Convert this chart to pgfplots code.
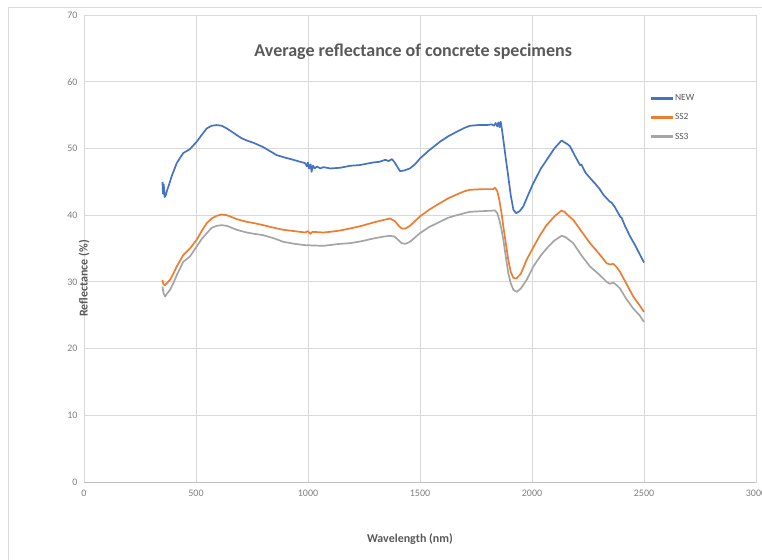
\documentclass[border=0pt]{standalone}
\usepackage{fontspec}
\setmainfont{Carlito}
\usepackage{pgfplots}
\pgfplotsset{compat=1.18}

\definecolor{xlblue}{HTML}{4472C4}
\definecolor{xlorange}{HTML}{ED7D31}
\definecolor{xlgray}{HTML}{A5A5A5}
\definecolor{gridc}{HTML}{D9D9D9}
\definecolor{txtc}{HTML}{595959}
\definecolor{tickc}{HTML}{7F7F7F}

\begin{document}
\begin{tikzpicture}
\useasboundingbox (-84pt,-77pt) rectangle (678pt,482pt);
\clip (-84pt,-77pt) rectangle (678pt,482pt);
\draw[gridc, line width=0.8pt] (-76pt,-90pt) -- (-76pt,475pt) -- (700pt,475pt);
\begin{axis}[
  scale only axis, width=672pt, height=467pt,
  xmin=0, xmax=3000, ymin=0, ymax=70,
  xtick={0,500,...,3000}, ytick={0,10,...,70},
  grid=major, major grid style={gridc, line width=0.8pt},
  axis line style={gridc, line width=0.8pt},
  major tick length=0pt,
  tick label style={font=\fontsize{10}{12}\selectfont, text=tickc},
  /pgf/number format/assume math mode=true,
  /pgf/number format/1000 sep={},
  xticklabel style={yshift=-4pt},
  yticklabel style={xshift=-3pt},
  xlabel={Wavelength (nm)}, ylabel={Reflectance (\%)},
  every axis x label/.style={at={(axis description cs:0.485,0)}, anchor=center, yshift=-57pt,
    font=\bfseries\fontsize{12}{14}\selectfont, text=txtc},
  every axis y label/.style={at={(axis description cs:0,0.5)}, anchor=center, rotate=90, xshift=-30pt,
    font=\bfseries\fontsize{12}{14}\selectfont, text=txtc},
  legend style={at={(axis cs:2517,58.7)}, anchor=north west, draw=none, fill=none,
    font=\fontsize{9.5}{11}\selectfont, row sep=7.5pt,
    nodes={text=txtc}},
  legend cell align=left,
  % a filled bar instead of a stroked zero-height line
  legend image code/.code={\fill[#1, draw=none] (0pt,-1.2pt) rectangle (22pt,1.2pt);},
]
\addplot[color=xlblue, line width=1.7pt, line join=round] coordinates {
(350,45.0) (353,43.2) (356,44.6) (360,42.7) (365,43.0) (370,43.6) (380,44.6)
(391,45.8) (414,47.8) (443,49.3) (473,49.9) (503,51.0) (525,52.0) (548,53.0)
(570,53.4) (592,53.5) (615,53.4) (637,53.0) (660,52.5) (682,52.0) (705,51.5)
(726,51.2) (760,50.8) (800,50.2) (830,49.6) (860,49.0) (900,48.6) (934,48.3)
(965,48.0) (987,47.8) (995,47.3) (1000,47.9) (1005,47.0) (1012,47.6) (1016,46.5)
(1022,47.4) (1030,47.0) (1040,47.3) (1055,47.0) (1068,47.2) (1100,47.0) (1143,47.1)
(1188,47.4) (1230,47.5) (1260,47.7) (1292,47.9) (1320,48.0) (1345,48.3) (1360,48.1)
(1374,48.4) (1385,48.0) (1396,47.4) (1405,46.9) (1411,46.6) (1430,46.7) (1455,47.0)
(1480,47.7) (1500,48.5) (1540,49.7) (1589,51.0) (1625,51.8) (1664,52.5) (1700,53.1)
(1723,53.4) (1760,53.5) (1798,53.5) (1820,53.6) (1830,53.4) (1838,53.8) (1845,53.3)
(1850,53.9) (1855,53.2) (1860,54.0) (1866,52.8) (1872,51.3) (1883,48.5) (1894,45.8)
(1905,43.0) (1917,40.8) (1929,40.3) (1945,40.6) (1961,41.3) (1985,43.2) (2006,44.8)
(2040,47.0) (2070,48.5) (2100,50.0) (2132,51.2) (2145,50.9) (2160,50.6) (2170,50.3)
(2190,49.0) (2214,47.5) (2220,47.6) (2240,46.3) (2274,45.0) (2280,44.8) (2300,44.0)
(2320,43.0) (2348,42.0) (2355,41.9) (2370,41.2) (2393,39.8) (2400,39.6) (2415,38.4)
(2438,36.8) (2460,35.5) (2480,34.2) (2500,32.9)
};
\addlegendentry{NEW}
\addplot[color=xlorange, line width=1.7pt, line join=round] coordinates {
(350,30.3) (355,29.6) (362,29.5) (370,29.8) (384,30.3) (400,31.3) (414,32.3)
(443,34.0) (473,35.0) (503,36.3) (525,37.6) (548,38.8) (570,39.5) (592,39.9)
(615,40.1) (637,40.0) (660,39.7) (682,39.4) (726,39.0) (760,38.8) (800,38.5)
(850,38.1) (890,37.8) (940,37.6) (987,37.4) (1000,37.6) (1010,37.2) (1020,37.5)
(1068,37.4) (1100,37.5) (1143,37.7) (1188,38.0) (1240,38.4) (1292,38.9) (1340,39.3)
(1366,39.5) (1388,39.1) (1405,38.4) (1418,38.0) (1435,38.0) (1455,38.4) (1500,39.8)
(1540,40.8) (1589,41.8) (1625,42.5) (1664,43.1) (1700,43.6) (1723,43.8) (1780,43.9)
(1827,43.9) (1835,44.1) (1845,43.6) (1854,42.3) (1863,40.5) (1872,38.3) (1883,35.8)
(1894,33.3) (1905,31.5) (1917,30.6) (1930,30.5) (1950,31.2) (1976,33.3) (2006,35.2)
(2036,37.0) (2065,38.5) (2100,39.8) (2132,40.7) (2145,40.5) (2160,40.0) (2184,39.3)
(2220,37.6) (2259,35.8) (2300,34.2) (2333,32.8) (2348,32.6) (2363,32.7) (2378,32.2)
(2393,31.5) (2420,29.8) (2452,27.8) (2480,26.5) (2500,25.5)
};
\addlegendentry{SS2}
\addplot[color=xlgray, line width=1.7pt, line join=round] coordinates {
(350,29.3) (355,28.3) (362,27.8) (370,28.2) (384,28.8) (400,29.9) (414,31.0)
(443,33.0) (473,33.8) (503,35.3) (525,36.4) (548,37.3) (570,38.1) (592,38.4)
(615,38.5) (637,38.4) (660,38.1) (682,37.8) (726,37.4) (760,37.2) (800,37.0)
(850,36.5) (890,36.0) (940,35.7) (987,35.5) (1068,35.4) (1143,35.7) (1188,35.8)
(1240,36.1) (1292,36.5) (1340,36.8) (1366,36.9) (1385,36.8) (1396,36.5) (1418,35.8)
(1435,35.7) (1455,36.0) (1500,37.3) (1540,38.2) (1589,39.0) (1625,39.6) (1664,40.0)
(1723,40.5) (1780,40.6) (1835,40.7) (1845,40.3) (1854,39.3) (1863,38.0) (1872,36.3)
(1883,33.8) (1894,31.3) (1905,29.8) (1917,28.8) (1932,28.5) (1950,29.0) (1976,30.3)
(2006,32.3) (2036,33.8) (2065,35.0) (2100,36.2) (2132,36.9) (2150,36.7) (2184,35.8)
(2220,34.0) (2259,32.3) (2300,31.1) (2333,30.0) (2348,29.7) (2363,29.9) (2378,29.5)
(2393,29.0) (2420,27.5) (2452,26.0) (2480,25.0) (2500,24.0)
};
\addlegendentry{SS3}
\draw[black!25, line width=0.8pt] (rel axis cs:0,0) -- (rel axis cs:1,0);
\node[font=\bfseries\fontsize{18}{21}\selectfont, text=txtc] at (axis description cs:0.490,0.922) {Average reflectance of concrete specimens};
\end{axis}
\end{tikzpicture}
\end{document}
